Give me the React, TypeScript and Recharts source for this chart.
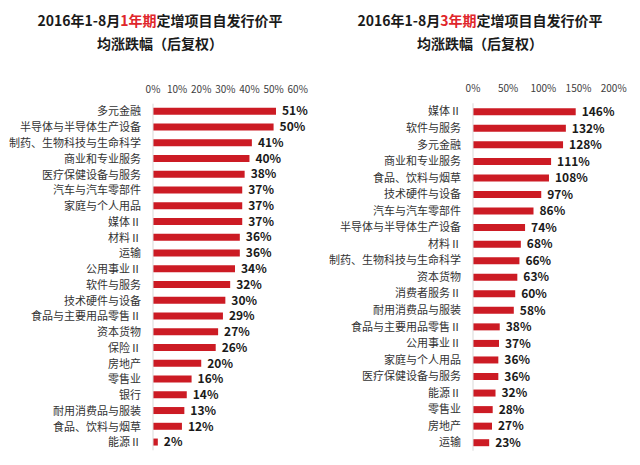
import React from "react";
import { BarChart, Bar, XAxis, YAxis, LabelList } from "recharts";

const leftCategories = [
  "多元金融", "半导体与半导体生产设备", "制药、生物科技与生命科学", "商业和专业服务",
  "医疗保健设备与服务", "汽车与汽车零部件", "家庭与个人用品", "媒体Ⅱ", "材料Ⅱ", "运输",
  "公用事业Ⅱ", "软件与服务", "技术硬件与设备", "食品与主要用品零售Ⅱ", "资本货物", "保险Ⅱ",
  "房地产", "零售业", "银行", "耐用消费品与服装", "食品、饮料与烟草", "能源Ⅱ",
];
const leftValues = [51, 50, 41, 40, 38, 37, 37, 37, 36, 36, 34, 32, 30, 29, 27, 26, 20, 16, 14, 13, 12, 2];
const leftTicks = [0, 10, 20, 30, 40, 50, 60];

const rightCategories = [
  "媒体Ⅱ", "软件与服务", "多元金融", "商业和专业服务", "食品、饮料与烟草", "技术硬件与设备",
  "汽车与汽车零部件", "半导体与半导体生产设备", "材料Ⅱ", "制药、生物科技与生命科学", "资本货物",
  "消费者服务Ⅱ", "耐用消费品与服装", "食品与主要用品零售Ⅱ", "公用事业Ⅱ", "家庭与个人用品",
  "医疗保健设备与服务", "能源Ⅱ", "零售业", "房地产", "运输",
];
const rightValues = [146, 132, 128, 111, 108, 97, 86, 74, 68, 66, 63, 60, 58, 38, 37, 36, 36, 32, 28, 27, 23];
const rightTicks = [0, 50, 100, 150, 200];

const FONT = "'Noto Sans CJK SC', 'Noto Sans', sans-serif";
const RED = "#CC1B24";

const leftData = leftCategories.map((name, i) => ({ name, value: leftValues[i] }));
const rightData = rightCategories.map((name, i) => ({ name, value: rightValues[i] }));

function Panel({ data, ticks, max, top, bottom, right }: any) {
  return (
    <BarChart
      width={320}
      height={465}
      data={data}
      layout="vertical"
      margin={{ top, bottom, left: 0, right }}
      barCategoryGap={0}
    >
      <XAxis
        type="number"
        orientation="top"
        domain={[0, max]}
        ticks={ticks}
        allowDataOverflow
        axisLine={false}
        tickLine={false}
        tickSize={0}
        tickMargin={11}
        height={20}
        tick={{ fontSize: 10, fill: "#404040", fontFamily: FONT }}
        tickFormatter={(v: number) => `${v}%`}
        interval={0}
      />
      <YAxis
        type="category"
        dataKey="name"
        width={153}
        interval={0}
        axisLine={{ stroke: "#d9d9d9", strokeWidth: 1 }}
        tickLine={false}
        tickSize={0}
        tickMargin={12}
        tick={{ fontSize: 11, fill: "#333333", fontFamily: FONT }}
      />
      <Bar dataKey="value" fill={RED} barSize={7} isAnimationActive={false}>
        <LabelList
          dataKey="value"
          position="right"
          offset={6}
          formatter={(v: any) => `${v}%`}
          style={{ fontSize: 12, fontWeight: 700, fill: "#1a1a1a", fontFamily: FONT }}
        />
      </Bar>
    </BarChart>
  );
}

const titleStyle: React.CSSProperties = {
  position: "absolute",
  top: 9,
  width: 320,
  textAlign: "center",
  fontFamily: FONT,
  fontWeight: 700,
  fontSize: 14,
  lineHeight: "23px",
  color: "#1a1a1a",
};

export default function App() {
  return (
    <div style={{ position: "absolute", left: 0, top: 0, width: 640, height: 465, background: "#fff", overflow: "hidden" }}>
      <div style={{ position: "absolute", left: 0, top: 0 }}>
        <Panel data={leftData} ticks={leftTicks} max={60} top={83.7} bottom={14.7} right={22.3} />
      </div>
      <div style={{ position: "absolute", left: 320, top: 0 }}>
        <Panel data={rightData} ticks={rightTicks} max={200} top={83.25} bottom={14.25} right={26.3} />
      </div>
      <div style={{ ...titleStyle, left: 0 }}>
        2016年1-8月<span style={{ color: "#E0262B" }}>1年期</span>定增项目自发行价平<br />均涨跌幅（后复权）
      </div>
      <div style={{ ...titleStyle, left: 320 }}>
        2016年1-8月<span style={{ color: "#E0262B" }}>3年期</span>定增项目自发行价平<br />均涨跌幅（后复权）
      </div>
    </div>
  );
}
